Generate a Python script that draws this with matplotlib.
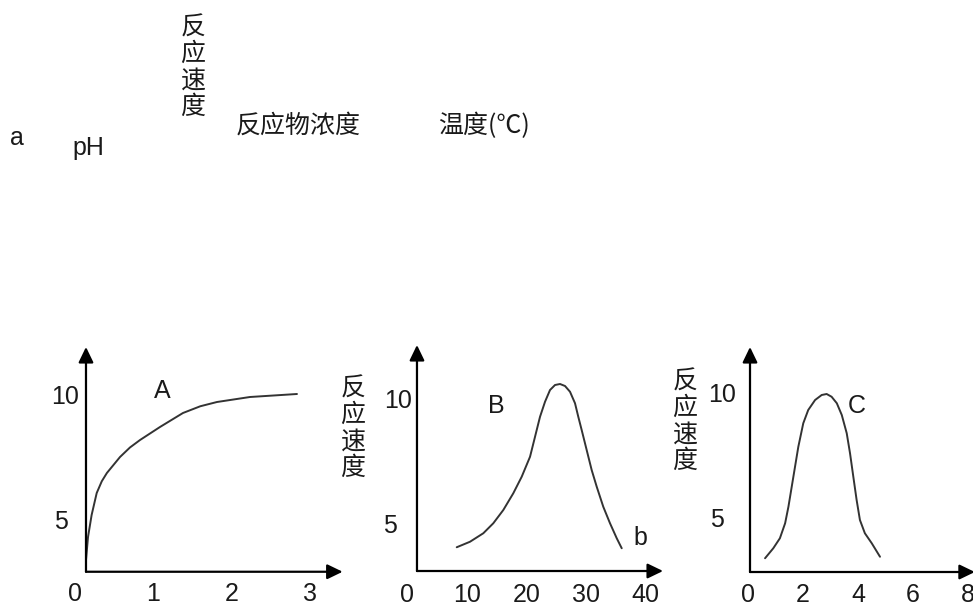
import matplotlib
matplotlib.use("Agg")
import matplotlib.pyplot as plt
from matplotlib.transforms import offset_copy

W, H = 973, 608
DPI = 100

# ---------------- data ----------------
# Panel A: reaction rate vs substrate concentration
a_x = [0.138, 0.164, 0.210, 0.275, 0.340, 0.405, 0.573, 0.700, 0.829, 1.084, 1.378, 1.600, 1.813, 2.235, 2.836]
a_y = [3.40, 4.32, 5.20, 6.08, 6.55, 6.88, 7.52, 7.90, 8.20, 8.72, 9.28, 9.55, 9.72, 9.92, 10.04]
# Panel B: reaction rate vs temperature
b_x = [8.29, 10.52, 12.76, 14.44, 16.12, 17.80, 19.21, 20.61, 21.45, 22.29, 23.13, 23.97, 24.81,
       25.65, 26.49, 27.33, 28.17, 28.72, 29.29, 30.13, 30.97, 31.82, 32.92, 34.05, 35.18, 36.02]
b_y = [4.07, 4.29, 4.63, 5.03, 5.56, 6.23, 6.89, 7.69, 8.49, 9.29, 9.89, 10.36, 10.56,
       10.60, 10.52, 10.29, 9.83, 9.29, 8.76, 7.96, 7.16, 6.49, 5.69, 5.03, 4.43, 4.03]
# Panel C: reaction rate vs pH
c_x = [0.62, 0.92, 1.16, 1.35, 1.47, 1.59, 1.71, 1.83, 2.01, 2.19, 2.44, 2.68, 2.86,
       3.04, 3.23, 3.41, 3.59, 3.71, 3.83, 3.95, 4.07, 4.25, 4.50, 4.80]
c_y = [3.39, 3.79, 4.19, 4.79, 5.45, 6.25, 7.05, 7.85, 8.79, 9.32, 9.72, 9.92, 9.96,
       9.85, 9.59, 9.12, 8.39, 7.59, 6.65, 5.72, 4.92, 4.39, 3.99, 3.45]

a_xticks = [0, 1, 2, 3]
b_xticks = [0, 10, 20, 30, 40]
c_xticks = [0, 2, 4, 6, 8]
yticks = [5, 10]

curve_names = ["A", "B", "C"]
ylabel = "反应速度"
top_labels = ["反应物浓度", "温度(℃)"]

LAT = ["Liberation Sans", "DejaVu Sans"]
CJK = ["Noto Sans CJK SC", "DejaVu Sans"]
FS_LAT = 18
FS_CJK = 18
TXT = "#1a1a1a"

fig = plt.figure(figsize=(W / DPI, H / DPI), dpi=DPI)
fig.patch.set_facecolor("white")


def fig_xy(px, py):
    return px / W, 1 - py / H


def make_panel(a, b, c, d, xlim, ylim):
    # pixel mapping: xpx = a + b*v ; ypx(from top) = c - d*v
    L, R = xlim
    B, T = ylim
    left = (a + b * L) / W
    width = (R - L) * b / W
    bottom = (H - (c - d * B)) / H
    height = (T - B) * d / H
    ax = fig.add_axes([left, bottom, width, height])
    ax.set_xlim(L, R)
    ax.set_ylim(B, T)
    ax.axis("off")
    return ax


def draw_axes(ax, x0, y0, xtip, ytip):
    ap = dict(arrowstyle="-|>,head_length=0.62,head_width=0.3", color="black",
              lw=1.6, shrinkA=0, shrinkB=0, mutation_scale=15)
    ax.annotate("", xy=(xtip, y0), xytext=(x0, y0), arrowprops=ap, annotation_clip=False)
    ax.annotate("", xy=(x0, ytip), xytext=(x0, y0), arrowprops=ap, annotation_clip=False)


def tick_labels(ax, xticks, x_baseline_px, ylab_dx):
    tr_x = matplotlib.transforms.blended_transform_factory(ax.transData, fig.transFigure)
    for v in xticks:
        ax.text(v, 1 - x_baseline_px / H, str(v), transform=tr_x, ha="center",
                va="baseline", fontsize=FS_LAT, family=LAT, color=TXT)
    tr_y = offset_copy(ax.transData, fig=fig, x=0, y=-9, units="dots")
    for v, dx in zip(yticks, ylab_dx):
        ax.text(dx, v, str(v), transform=tr_y, ha="center", va="baseline",
                fontsize=FS_LAT, family=LAT, color=TXT)


curve_kw = dict(color="#333333", lw=1.4, solid_capstyle="round", solid_joinstyle="round")

# Panel A
axA = make_panel(75.2, 78.2, 645, 25, (-0.8, 3.8), (1.5, 12.5))
draw_axes(axA, 0.138, 2.93, 3.42, 11.92)
axA.plot(a_x, a_y, **curve_kw)
tick_labels(axA, a_xticks, 601, [(60.5 - 75.2) / 78.2, (65.5 - 75.2) / 78.2])
fig.text(*fig_xy(162, 398), curve_names[0], ha="center", va="baseline",
         fontsize=FS_LAT, family=LAT, color=TXT)

# Panel B
axB = make_panel(407.4, 5.95, 649, 25, (-8, 46), (1.5, 12.5))
draw_axes(axB, 1.61, 3.12, 42.96, 12.16)
axB.plot(b_x, b_y, **curve_kw)
tick_labels(axB, b_xticks, 602, [(390 - 407.4) / 5.95, (398 - 407.4) / 5.95])
fig.text(*fig_xy(496.7, 413), curve_names[1], ha="center", va="baseline",
         fontsize=FS_LAT, family=LAT, color=TXT)
fig.text(*fig_xy(640, 545), "b", ha="center", va="baseline",
         fontsize=FS_LAT, family=LAT, color=TXT)

# Panel C
axC = make_panel(748, 27.5, 643, 25, (-3, 8.4), (1.5, 12.5))
draw_axes(axC, 0.073, 2.84, 8.25, 11.84)
axC.plot(c_x, c_y, **curve_kw)
tick_labels(axC, c_xticks, 602, [(717 - 748) / 27.5, (722.5 - 748) / 27.5])
fig.text(*fig_xy(856.7, 413), curve_names[2], ha="center", va="baseline",
         fontsize=FS_LAT, family=LAT, color=TXT)

# vertical Chinese labels
vert = "\n".join(ylabel)
for (px, py) in [(193, 67.5), (353, 428.5), (685, 421.5)]:
    fig.text(*fig_xy(px, py), vert, ha="center", va="center", fontsize=FS_CJK,
             family=CJK, color=TXT, linespacing=1.02)

# loose labels at the top
fig.text(*fig_xy(298, 126), top_labels[0], ha="center", va="center",
         fontsize=FS_CJK, family=CJK, color=TXT)
fig.text(*fig_xy(484, 126), top_labels[1], ha="center", va="center",
         fontsize=FS_CJK, family=CJK, color=TXT)
fig.text(*fig_xy(10, 145), "a", ha="left", va="baseline", fontsize=FS_LAT,
         family=LAT, color=TXT)
fig.text(*fig_xy(72, 155), "pH", ha="left", va="baseline", fontsize=FS_LAT,
         family=LAT, color=TXT)

fig.savefig("out.png", dpi=DPI, facecolor="white")
